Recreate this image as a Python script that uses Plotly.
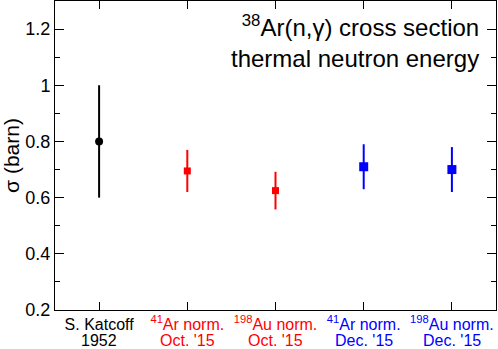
import plotly.graph_objects as go

# ================= DATA =================
POSITIONS = [1, 2, 3, 4, 5]
LABEL_TOP = ["S. Katcoff", "<sup>41</sup>Ar norm.", "<sup>198</sup>Au norm.",
             "<sup>41</sup>Ar norm.", "<sup>198</sup>Au norm."]
LABEL_BOTTOM = ["1952", "Oct. '15", "Oct. '15", "Dec. '15", "Dec. '15"]
LABEL_COLORS = ["#000000", "#ff0000", "#ff0000", "#0000ff", "#0000ff"]

KATCOFF_X = [1]
KATCOFF_Y = [0.80]
KATCOFF_ERR = [0.20]

OCT_X = [2, 3]
OCT_Y = [0.695, 0.625]
OCT_ERR = [0.075, 0.067]

DEC_X = [4, 5]
DEC_Y = [0.71, 0.70]
DEC_ERR = [0.08, 0.08]
# ========================================

FONT = "Liberation Sans, Arial, Helvetica, sans-serif"

fig = go.Figure()


def add_series(x, y, err, color, symbol, size):
    fig.add_trace(go.Scatter(
        x=x, y=y,
        mode="markers",
        marker=dict(color=color, symbol=symbol, size=size),
        error_y=dict(type="data", array=err, color=color, thickness=2, width=0),
        showlegend=False,
        hoverinfo="skip",
    ))


add_series(KATCOFF_X, KATCOFF_Y, KATCOFF_ERR, "#000000", "circle", 8)
add_series(OCT_X, OCT_Y, OCT_ERR, "#ff0000", "square", 7)
add_series(DEC_X, DEC_Y, DEC_ERR, "#0000ff", "square", 9)

# first line of each category label as coloured tick text
tick_text = [f"<span style='color:{c}'>{t}</span>"
             for t, c in zip(LABEL_TOP, LABEL_COLORS)]

# second line as annotations under the ticks
for x, t, c in zip(POSITIONS, LABEL_BOTTOM, LABEL_COLORS):
    fig.add_annotation(
        text=t, x=x, xref="x", y=0, yref="paper",
        xanchor="center", yanchor="top", yshift=-20,
        showarrow=False,
        font=dict(size=16, color=c, family=FONT),
    )

fig.add_annotation(
    text="<sup>38</sup>Ar(n,γ) cross section<br>thermal neutron energy",
    xref="paper", yref="paper",
    x=0.966, y=0.975,
    xanchor="right", yanchor="top",
    align="right",
    showarrow=False,
    font=dict(size=24, color="black", family=FONT),
)

fig.update_layout(
    width=498, height=349,
    margin=dict(l=55, r=2, t=1, b=39, autoexpand=False),
    paper_bgcolor="white",
    plot_bgcolor="white",
    font=dict(family=FONT, color="black"),
    xaxis=dict(
        range=[0.5, 5.5],
        tickmode="array",
        tickvals=POSITIONS,
        ticktext=tick_text,
        ticks="inside", ticklen=8, tickwidth=1, tickcolor="black",
        showline=True, linecolor="black", linewidth=1, mirror="ticks",
        showgrid=False, zeroline=False,
        tickfont=dict(size=16, family=FONT),
    ),
    yaxis=dict(
        range=[0.2, 1.3],
        tickmode="array",
        tickvals=[0.2, 0.4, 0.6, 0.8, 1.0, 1.2],
        ticktext=["0.2", "0.4", "0.6", "0.8", "1", "1.2"],
        ticks="inside", ticklen=9, tickwidth=1, tickcolor="black",
        minor=dict(tickvals=[0.3, 0.5, 0.7, 0.9, 1.1], ticks="inside",
                   ticklen=5, tickcolor="black"),
        showline=True, linecolor="black", linewidth=1, mirror="ticks",
        showgrid=False, zeroline=False,
        tickfont=dict(size=18, family=FONT),
        title=dict(text="σ (barn)", font=dict(size=21, family=FONT), standoff=6),
    ),
)

fig.write_html(
    "out.html",
    config={"displayModeBar": False},
    post_script="document.body.style.margin='0';document.body.style.overflow='hidden';",
)
